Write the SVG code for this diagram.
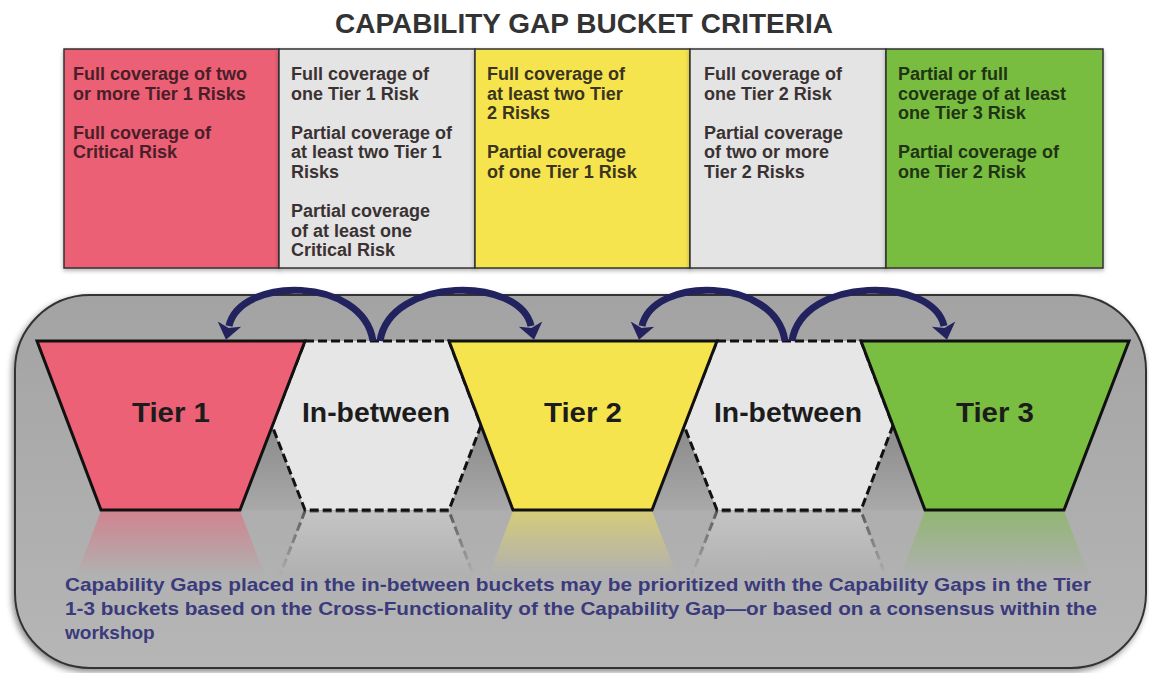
<svg xmlns="http://www.w3.org/2000/svg" width="1149" height="673" viewBox="0 0 1149 673">
<defs>
<style>
.title{font-family:"Liberation Sans",Arial,sans-serif;font-weight:bold;font-size:27px;fill:#333333}
.bt{font-family:"Liberation Sans",Arial,sans-serif;font-weight:bold;font-size:18px;fill:#3a3232}
.lbl{font-family:"Liberation Sans",Arial,sans-serif;font-weight:bold;font-size:27px;fill:#1c1c1c;text-anchor:middle}
.note{font-family:"Liberation Sans",Arial,sans-serif;font-weight:bold;font-size:19px;fill:#3a3a7c}
.box{stroke:#333333;stroke-width:1.5}
.tier{stroke:#111111;stroke-width:3;stroke-linejoin:miter}
.mid{fill:#e6e6e6;stroke:#111111;stroke-width:3;stroke-dasharray:9 4}
.arc{fill:none;stroke:#22225e;stroke-width:7;marker-end:url(#ah)}
</style>
<marker id="ah" markerUnits="userSpaceOnUse" markerWidth="26" markerHeight="26" viewBox="0 0 26 26" refX="2" refY="13" orient="auto">
<path d="M0 1 L16 13 L0 25 L4 13 Z" fill="#22225e"/>
</marker>
<linearGradient id="panel" x1="0" y1="0" x2="0" y2="1">
<stop offset="0" stop-color="#a3a3a3"/>
<stop offset="1" stop-color="#b6b6b6"/>
</linearGradient>
<linearGradient id="shade" x1="0" y1="0" x2="0" y2="1">
<stop offset="0" stop-color="#8a8a8a"/>
<stop offset="1" stop-color="#a9a9a9"/>
</linearGradient>
<linearGradient id="fade" gradientUnits="userSpaceOnUse" x1="0" y1="511" x2="0" y2="575">
<stop offset="0" stop-color="#ffffff" stop-opacity="0.55"/>
<stop offset="1" stop-color="#ffffff" stop-opacity="0"/>
</linearGradient>
<mask id="rm" maskUnits="userSpaceOnUse" x="0" y="500" width="1149" height="100">
<rect x="0" y="511" width="1149" height="70" fill="url(#fade)"/>
</mask>
<filter id="sh" x="-5%" y="-5%" width="110%" height="115%">
<feDropShadow dx="-2" dy="3" stdDeviation="3" flood-color="#000000" flood-opacity="0.45"/>
</filter>
<filter id="sh2" x="-5%" y="-5%" width="110%" height="115%">
<feDropShadow dx="0" dy="2" stdDeviation="2" flood-color="#000000" flood-opacity="0.3"/>
</filter>
</defs>

<rect x="0" y="0" width="1149" height="673" fill="#ffffff"/>

<g id="title">
<text class="title" x="335" y="33" textLength="498" lengthAdjust="spacingAndGlyphs">CAPABILITY GAP BUCKET CRITERIA</text>
</g>

<g id="criteria-tier1">
<rect class="box" x="64" y="49" width="215" height="219" fill="#ec6175" filter="url(#sh2)"/>
<text class="bt" style="fill:#4a1e28" x="73" y="80">Full coverage of two</text>
<text class="bt" style="fill:#4a1e28" x="73" y="99.6">or more Tier 1 Risks</text>
<text class="bt" style="fill:#4a1e28" x="73" y="138.8">Full coverage of</text>
<text class="bt" style="fill:#4a1e28" x="73" y="158.4">Critical Risk</text>
</g>

<g id="criteria-inbetween1">
<rect class="box" x="279" y="49" width="196" height="219" fill="#e4e4e4" filter="url(#sh2)"/>
<text class="bt" x="291" y="80">Full coverage of</text>
<text class="bt" x="291" y="99.6">one Tier 1 Risk</text>
<text class="bt" x="291" y="138.8">Partial coverage of</text>
<text class="bt" x="291" y="158.4">at least two Tier 1</text>
<text class="bt" x="291" y="178">Risks</text>
<text class="bt" x="291" y="217.2">Partial coverage</text>
<text class="bt" x="291" y="236.8">of at least one</text>
<text class="bt" x="291" y="256.4">Critical Risk</text>
</g>

<g id="criteria-tier2">
<rect class="box" x="475" y="49" width="215" height="219" fill="#f6e44f" filter="url(#sh2)"/>
<text class="bt" style="fill:#3a3420" x="487" y="80">Full coverage of</text>
<text class="bt" style="fill:#3a3420" x="487" y="99.6">at least two Tier</text>
<text class="bt" style="fill:#3a3420" x="487" y="119.2">2 Risks</text>
<text class="bt" style="fill:#3a3420" x="487" y="158.4">Partial coverage</text>
<text class="bt" style="fill:#3a3420" x="487" y="178">of one Tier 1 Risk</text>
</g>

<g id="criteria-inbetween2">
<rect class="box" x="690" y="49" width="196" height="219" fill="#e4e4e4" filter="url(#sh2)"/>
<text class="bt" x="704" y="80">Full coverage of</text>
<text class="bt" x="704" y="99.6">one Tier 2 Risk</text>
<text class="bt" x="704" y="138.8">Partial coverage</text>
<text class="bt" x="704" y="158.4">of two or more</text>
<text class="bt" x="704" y="178">Tier 2 Risks</text>
</g>

<g id="criteria-tier3">
<rect class="box" x="886" y="49" width="217" height="219" fill="#79bd41" filter="url(#sh2)"/>
<text class="bt" style="fill:#1f3414" x="898" y="80">Partial or full</text>
<text class="bt" style="fill:#1f3414" x="898" y="99.6">coverage of at least</text>
<text class="bt" style="fill:#1f3414" x="898" y="119.2">one Tier 3 Risk</text>
<text class="bt" style="fill:#1f3414" x="898" y="158.4">Partial coverage of</text>
<text class="bt" style="fill:#1f3414" x="898" y="178">one Tier 2 Risk</text>
</g>

<g id="panel">
<rect x="15" y="295" width="1131" height="373" rx="75" ry="75" fill="url(#panel)" stroke="#333333" stroke-width="2" filter="url(#sh)"/>
<polygon points="272,425.5 240,510 305,510" fill="url(#shade)"/>
<polygon points="481,425.5 449,510 513,510" fill="url(#shade)"/>
<polygon points="684,425.5 652,510 717,510" fill="url(#shade)"/>
<polygon points="893,425.5 861,510 925,510" fill="url(#shade)"/>
</g>

<g id="reflections" mask="url(#rm)">
<g transform="translate(0 1021) scale(1 -1)">
<polygon points="37,341 305,341 240,510 101,510" fill="#ec6175"/>
<polygon points="449,341 717,341 652,510 513,510" fill="#f6e44f"/>
<polygon points="861,341 1129,341 1064,510 925,510" fill="#79bd41"/>
<polygon class="mid" points="305,341 449,341 481,425.5 449,510 305,510 272,425.5" style="fill:#d8d8d8"/>
<polygon class="mid" points="717,341 861,341 893,425.5 861,510 717,510 684,425.5" style="fill:#d8d8d8"/>
</g>
</g>

<g id="inbetween1">
<polygon class="mid" points="305,341 449,341 481,425.5 449,510 305,510 272,425.5"/>
<text class="lbl" x="376" y="422" textLength="148" lengthAdjust="spacingAndGlyphs">In-between</text>
</g>
<g id="inbetween2">
<polygon class="mid" points="717,341 861,341 893,425.5 861,510 717,510 684,425.5"/>
<text class="lbl" x="788" y="422" textLength="148" lengthAdjust="spacingAndGlyphs">In-between</text>
</g>
<g id="tier1">
<polygon class="tier" points="37,341 305,341 240,510 101,510" fill="#ec6175"/>
<text class="lbl" x="171" y="422" textLength="78" lengthAdjust="spacingAndGlyphs">Tier 1</text>
</g>
<g id="tier2">
<polygon class="tier" points="449,341 717,341 652,510 513,510" fill="#f6e44f"/>
<text class="lbl" x="583" y="422" textLength="78" lengthAdjust="spacingAndGlyphs">Tier 2</text>
</g>
<g id="tier3">
<polygon class="tier" points="861,341 1129,341 1064,510 925,510" fill="#79bd41"/>
<text class="lbl" x="995" y="422" textLength="78" lengthAdjust="spacingAndGlyphs">Tier 3</text>
</g>

<g id="connectors">
<path class="arc" d="M373 341 C363 276, 240 276, 229 326"/>
<path class="arc" d="M380 341 C390 276, 520 276, 531 326"/>
<path class="arc" d="M785 341 C775 276, 653 276, 642 326"/>
<path class="arc" d="M792 341 C802 276, 933 276, 944 326"/>
</g>

<g id="note">
<text class="note" x="65" y="591" textLength="1026" lengthAdjust="spacingAndGlyphs">Capability Gaps placed in the in-between buckets may be prioritized with the Capability Gaps in the Tier</text>
<text class="note" x="65" y="615" textLength="1032" lengthAdjust="spacingAndGlyphs">1-3 buckets based on the Cross-Functionality of the Capability Gap—or based on a consensus within the</text>
<text class="note" x="65" y="639">workshop</text>
</g>
</svg>
